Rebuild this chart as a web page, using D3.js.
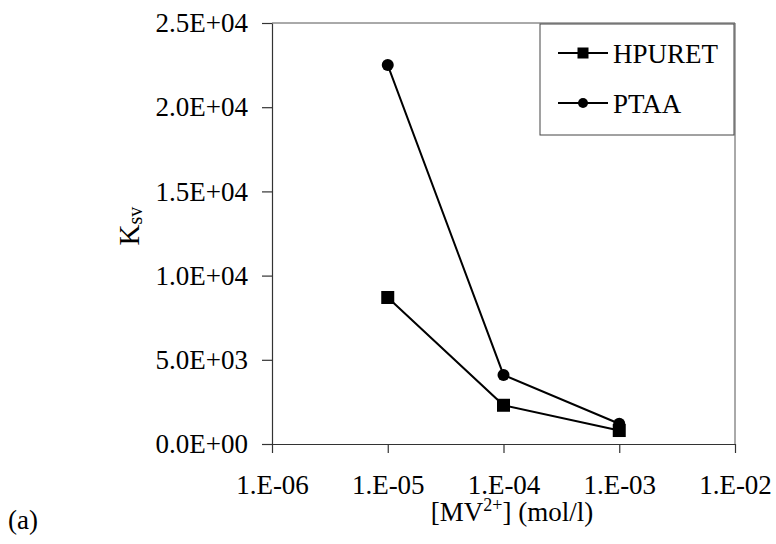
<!DOCTYPE html>
<html>
<head>
<meta charset="utf-8">
<script src="https://cdn.jsdelivr.net/npm/d3@7"></script>
<style>
  body { margin: 0; background: #fff; }
  svg text { font-family: "Liberation Serif", Tinos, "DejaVu Serif", serif; fill: #000; }
</style>
</head>
<body>
<script>
// data
var conc = [1e-5, 1e-4, 1e-3];
var hpuret = [8700, 2300, 800];
var ptaa = [22500, 4100, 1200];

var xTicks = [1e-6, 1e-5, 1e-4, 1e-3, 1e-2];
var xTickLabels = ["1.E-06", "1.E-05", "1.E-04", "1.E-03", "1.E-02"];
var yTicks = [0, 5000, 10000, 15000, 20000, 25000];
var yTickLabels = ["0.0E+00", "5.0E+03", "1.0E+04", "1.5E+04", "2.0E+04", "2.5E+04"];

var series = [
  {name: "HPURET", values: hpuret, symbol: "square"},
  {name: "PTAA", values: ptaa, symbol: "circle"}
];

var W = 776, H = 544;
var mLeft = 272, mRight = 735, mTop = 23, mBottom = 444;
var serif = "'Liberation Serif', Tinos, 'DejaVu Serif', serif";

var x = d3.scaleLog().domain([1e-6, 1e-2]).range([mLeft, mRight]);
var y = d3.scaleLinear().domain([0, 25000]).range([mBottom, mTop]);

var svg = d3.select("body").append("svg")
    .attr("width", W)
    .attr("height", H);

// frame (top and right)
svg.append("path")
   .attr("d", "M" + mLeft + "," + mTop + "H" + mRight + "V" + mBottom)
   .attr("fill", "none")
   .attr("stroke", "#555")
   .attr("stroke-width", 1);

// x axis
svg.append("g")
   .attr("transform", "translate(0," + mBottom + ")")
   .call(d3.axisBottom(x).tickValues(xTicks)
         .tickFormat(function (d, i) { return xTickLabels[i]; })
         .tickSizeInner(9).tickSizeOuter(0).tickPadding(22));

// y axis
svg.append("g")
   .attr("transform", "translate(" + mLeft + ",0)")
   .call(d3.axisLeft(y).tickValues(yTicks)
         .tickFormat(function (d, i) { return yTickLabels[i]; })
         .tickSizeInner(10).tickSizeOuter(0).tickPadding(14));

svg.selectAll("g").attr("font-family", serif);
svg.selectAll(".domain, .tick line").attr("stroke", "#333").attr("stroke-width", 1.2);
svg.selectAll(".tick text")
   .style("font-size", "27px")
   .attr("fill", "#000");

// lines
var line = d3.line()
    .x(function (d, i) { return x(conc[i]); })
    .y(function (d) { return y(d); });

series.forEach(function (s) {
  svg.append("path")
     .datum(s.values)
     .attr("d", line)
     .attr("fill", "none")
     .attr("stroke", "#000")
     .attr("stroke-width", 2);
});

function marker(g, sym, cx, cy, big) {
  if (sym === "square") {
    var s = big ? 13 : 11;
    g.append("rect").attr("x", cx - s / 2).attr("y", cy - s / 2)
     .attr("width", s).attr("height", s).attr("fill", "#000");
  } else {
    g.append("circle").attr("cx", cx).attr("cy", cy)
     .attr("r", big ? 6 : 5).attr("fill", "#000");
  }
}

series.forEach(function (s) {
  var g = svg.append("g");
  s.values.forEach(function (v, i) {
    marker(g, s.symbol, x(conc[i]), y(v), true);
  });
});

// legend
var lg = svg.append("g");
lg.append("rect")
  .attr("x", 540).attr("y", 24)
  .attr("width", 194).attr("height", 111)
  .attr("fill", "#fff")
  .attr("stroke", "#444")
  .attr("stroke-width", 1);

series.forEach(function (s, i) {
  var ly = 53 + i * 50;
  lg.append("line")
    .attr("x1", 558).attr("x2", 608)
    .attr("y1", ly).attr("y2", ly)
    .attr("stroke", "#000").attr("stroke-width", 2);
  marker(lg, s.symbol, 583, ly, false);
  lg.append("text")
    .attr("x", 613).attr("y", ly + 10)
    .style("font-size", "27px")
    .text(s.name);
});

// axis titles
var yt = svg.append("text")
   .attr("transform", "translate(139,226) rotate(-90)")
   .attr("text-anchor", "middle")
   .style("font-size", "29px");
yt.append("tspan").text("K");
yt.append("tspan").attr("dy", 3).style("font-size", "20px").text("sv");

var xt = svg.append("text")
   .attr("x", 512).attr("y", 521)
   .attr("text-anchor", "middle")
   .style("font-size", "27px");
xt.append("tspan").text("[MV");
xt.append("tspan").attr("dy", -10).style("font-size", "18px").text("2+");
xt.append("tspan").attr("dy", 10).text("] (mol/l)");

svg.append("text")
   .attr("x", 8).attr("y", 529)
   .style("font-size", "27px")
   .text("(a)");
</script>
</body>
</html>
